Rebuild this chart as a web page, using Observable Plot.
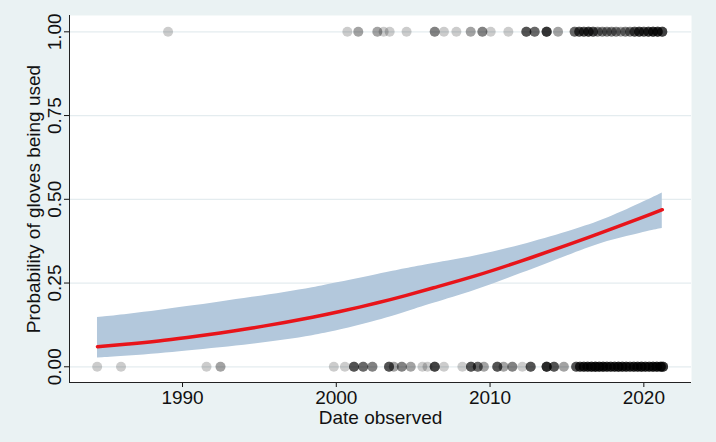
<!DOCTYPE html>
<html><head><meta charset="utf-8">
<script src="https://cdn.jsdelivr.net/npm/d3@7"></script>
<script src="https://cdn.jsdelivr.net/npm/@observablehq/plot@0.6"></script>
<style>html,body{margin:0;padding:0;background:#EAF2F3;}</style>
</head><body><div id="chart"></div>
<script>
// Observations where gloves were used (y = 1): date and number of overlapping observations
const yesDates  = [1989.06, 2000.72, 2001.43, 2002.67, 2003.08, 2003.47, 2004.57, 2006.40, 2007.00, 2007.81,
                   2008.74, 2009.50, 2010.04, 2011.19, 2012.36, 2012.90, 2013.68, 2014.42,
                   2015.5, 2015.8, 2016.1, 2016.4, 2016.7, 2017.0, 2017.3, 2017.6, 2017.9, 2018.2,
                   2018.5, 2018.8, 2019.1, 2019.4, 2019.7, 2020.0, 2020.3, 2020.6, 2020.9, 2021.2];
const yesCounts = [1, 1, 2, 2, 1, 1, 1, 3, 1, 1,
                   2, 3, 1, 1, 5, 4, 7, 2,
                   4, 5, 5, 6, 5, 3, 3, 3, 3, 3,
                   2, 3, 3, 5, 6, 5, 6, 7, 7, 6];
// Observations where gloves were not used (y = 0)
const noDates  = [1984.45, 1986.0, 1991.56, 1992.47, 1999.84, 2000.56, 2001.15, 2001.75, 2002.35, 2003.43,
                  2003.74, 2004.26, 2004.84, 2005.6, 2005.93, 2006.40, 2007.0, 2008.2, 2008.76, 2009.2,
                  2009.6, 2010.47, 2010.88, 2011.45, 2012.1, 2012.64, 2013.68, 2014.16, 2014.8,
                  2015.6, 2015.85, 2016.1, 2016.35, 2016.6, 2016.85, 2017.1, 2017.35, 2017.6, 2017.85,
                  2018.1, 2018.35, 2018.6, 2018.85, 2019.1, 2019.35, 2019.6, 2019.85, 2020.1, 2020.35,
                  2020.6, 2020.85, 2021.1, 2021.25];
const noCounts = [1, 1, 1, 2, 1, 1, 5, 4, 3, 5,
                  2, 3, 2, 1, 1, 6, 1, 1, 5, 4,
                  2, 5, 2, 3, 1, 5, 8, 5, 2,
                  5, 6, 7, 7, 8, 9, 8, 8, 7, 7,
                  7, 8, 7, 7, 6, 7, 7, 8, 7, 7,
                  8, 8, 8, 7];
// Fitted probability and 95% confidence band
const fitYears    = [1984.47, 1986.5, 1988.5, 1990.2, 1992.5, 1994.5, 1996.7, 1998.5, 2000.0, 2002.9,
                     2004.5, 2006.1, 2009.1, 2012.0, 2015.2, 2017.2, 2020.0, 2021.2];
const fitValues   = [0.060, 0.068, 0.077, 0.087, 0.101, 0.115, 0.133, 0.148, 0.162, 0.193,
                     0.212, 0.233, 0.271, 0.315, 0.366, 0.400, 0.447, 0.469];
const lowerValues = [0.026, 0.032, 0.039, 0.047, 0.057, 0.067, 0.080, 0.093, 0.106, 0.140,
                     0.163, 0.187, 0.228, 0.278, 0.334, 0.371, 0.401, 0.413];
const upperValues = [0.147, 0.157, 0.168, 0.179, 0.194, 0.207, 0.222, 0.236, 0.250, 0.278,
                     0.293, 0.307, 0.330, 0.362, 0.405, 0.434, 0.492, 0.519];
const xTicks = [1990, 2000, 2010, 2020];
const yTicks = [0, 0.25, 0.5, 0.75, 1];
const xDomain = [1982.65, 2023.1];
const yDomain = [-0.0469, 1.0487];

const expand = (dates, counts, v) => dates.flatMap((d, i) => d3.range(counts[i]).map(() => ({date: d, used: v})));
const dots = expand(yesDates, yesCounts, 1).concat(expand(noDates, noCounts, 0));
const band = fitYears.map((y, i) => ({year: y, fit: fitValues[i], lo: lowerValues[i], hi: upperValues[i]}));
const FS = 19;

const chart = Plot.plot({
  width: 716, height: 442,
  marginLeft: 69, marginRight: 25, marginTop: 15, marginBottom: 60,
  style: {background: "#EAF2F3", fontFamily: "'Liberation Sans', Arial, sans-serif", fontSize: FS + "px", color: "#111"},
  x: {domain: xDomain},
  y: {domain: yDomain},
  marks: [
    Plot.frame({fill: "white", stroke: null}),
    Plot.ruleY(yTicks, {stroke: "#E4ECEF", strokeWidth: 1.2}),
    Plot.areaY(band, {x: "year", y1: "lo", y2: "hi", fill: "#B3C8DC", curve: "basis"}),
    Plot.lineY(band, {x: "year", y: "fit", stroke: "#E8141A", strokeWidth: 3.5, curve: "basis"}),
    Plot.dot(dots, {x: "date", y: "used", r: 5, fill: "black", fillOpacity: 0.2, stroke: null}),
    Plot.axisX({ticks: xTicks, tickFormat: d => String(d), tickSize: 5, tickPadding: 3, fontSize: FS,
                label: "Date observed", labelAnchor: "center", labelOffset: 41, labelArrow: "none"}),
    Plot.axisY({ticks: yTicks, tickFormat: d3.format(".2f"), tickSize: 5, tickPadding: 4, tickRotate: -90, fontSize: FS,
                label: "Probability of gloves being used", labelAnchor: "center", labelOffset: 43, labelArrow: "none"}),
    Plot.ruleX([xDomain[0]], {stroke: "#222", strokeWidth: 1}),
    Plot.ruleY([yDomain[0]], {stroke: "#222", strokeWidth: 1})
  ]
});
document.getElementById("chart").appendChild(chart);
</script>
</body></html>
